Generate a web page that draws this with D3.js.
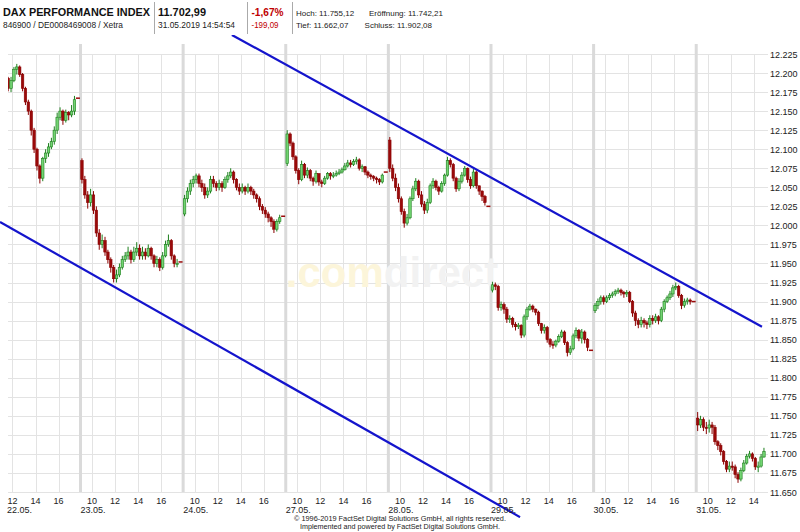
<!DOCTYPE html>
<html><head><meta charset="utf-8">
<script src="https://cdn.jsdelivr.net/npm/d3@7/dist/d3.min.js"></script>
<style>body{margin:0;background:#fff}svg{display:block}text{font-family:Arial,"Liberation Sans",sans-serif}</style>
</head><body><svg id="c" width="800" height="532"></svg>
<script>
// ---------- data ----------
const dayLabels = ["22.05.","23.05.","24.05.","27.05.","28.05.","29.05.","30.05.","31.05."];
const hourTicks = [10,12,14,16];
const yTicks = [11650,11675,11700,11725,11750,11775,11800,11825,11850,11875,11900,11925,11950,11975,12000,12025,12050,12075,12100,12125,12150,12175,12200,12225];
// 15-minute bars, first bar index per day (0 = 09:00-09:15)
const firstBar = [10,0,0,0,0,0,0,0];
const dayOpen = [12193,12085,12015,12081,12112,11915,11888,11747];
const closingAuction = [12167,11952,12012,12070,12025,11836,11900,null];
const c2205 = [12180,12190,12205,12208,12198,12180,12162,12150,12125,12100,12078,12062,12088,12095,12103,12110,12125,12142,12150,12138,12148,12145,12150,12165];
const h2205 = [12195,12195,12208,12212,12210,12200,12182,12165,12152,12128,12102,12080,12090,12100,12108,12115,12130,12148,12155,12152,12152,12150,12158,12170];
const l2205 = [12176,12175,12188,12198,12195,12176,12158,12145,12118,12095,12072,12055,12058,12082,12090,12100,12106,12120,12138,12132,12135,12138,12142,12145];
const c2305 = [12060,12040,12030,12040,12020,11990,11975,11980,11965,11955,11945,11930,11935,11945,11955,11960,11965,11955,11965,11970,11960,11965,11960,11970,11960,11950,11955,11945,11960,11975,11980,11960,11950,11950];
const h2305 = [12088,12065,12045,12048,12045,12025,11995,11988,11985,11968,11958,11948,11942,11950,11960,11965,11972,11968,11972,11978,11975,11972,11970,11975,11972,11962,11960,11958,11965,11980,11988,11982,11962,11956];
const l2305 = [12055,12035,12022,12025,12015,11985,11968,11970,11960,11950,11938,11925,11925,11932,11942,11952,11955,11950,11952,11960,11955,11955,11955,11958,11955,11945,11945,11940,11942,11958,11972,11955,11945,11945];
const c2405 = [12035,12045,12055,12060,12065,12055,12050,12040,12045,12060,12055,12050,12055,12050,12060,12065,12070,12060,12050,12045,12050,12045,12050,12045,12040,12035,12025,12020,12015,12010,12005,11995,12005,12010];
const h2405 = [12040,12050,12060,12065,12068,12068,12060,12055,12050,12065,12065,12058,12060,12058,12064,12070,12075,12072,12062,12055,12055,12052,12055,12052,12048,12042,12038,12028,12024,12018,12012,12008,12008,12014];
const l2405 = [12012,12030,12040,12050,12055,12050,12044,12035,12036,12042,12050,12045,12046,12044,12048,12056,12062,12055,12046,12040,12042,12040,12042,12040,12035,12030,12020,12015,12010,12004,11998,11990,11992,12002];
const c2705 = [12120,12108,12090,12072,12060,12080,12066,12072,12062,12058,12068,12057,12055,12062,12068,12065,12066,12068,12070,12073,12078,12082,12080,12084,12086,12075,12077,12070,12066,12064,12062,12060,12057,12066];
const h2705 = [12125,12122,12110,12092,12075,12085,12082,12076,12074,12064,12072,12068,12060,12065,12070,12070,12070,12072,12074,12076,12082,12086,12086,12087,12090,12088,12080,12078,12072,12068,12066,12064,12062,12068];
const l2705 = [12078,12104,12086,12068,12054,12058,12062,12062,12058,12052,12055,12052,12050,12053,12060,12060,12062,12064,12066,12068,12072,12076,12076,12078,12080,12072,12070,12066,12062,12060,12058,12055,12053,12055];
const c2805 = [12075,12062,12050,12035,12018,12003,12010,12035,12048,12058,12040,12028,12020,12030,12052,12058,12050,12045,12055,12066,12085,12080,12062,12048,12058,12066,12075,12060,12052,12070,12052,12045,12038,12030];
const h2805 = [12116,12080,12068,12055,12038,12022,12015,12038,12052,12062,12060,12045,12032,12035,12055,12062,12060,12052,12058,12068,12090,12088,12082,12064,12062,12070,12078,12076,12064,12074,12072,12052,12046,12040];
const l2805 = [12070,12058,12045,12030,12014,11997,12000,12008,12032,12045,12036,12024,12015,12016,12028,12048,12046,12040,12043,12052,12064,12076,12058,12044,12045,12055,12064,12056,12048,12050,12048,12040,12032,12026];
const c2905 = [11922,11920,11892,11896,11890,11877,11878,11870,11867,11869,11856,11880,11890,11894,11890,11886,11871,11862,11866,11850,11844,11843,11848,11854,11860,11846,11833,11838,11855,11862,11852,11860,11850,11840];
const h2905 = [11926,11925,11922,11900,11899,11893,11882,11880,11873,11872,11870,11883,11893,11897,11896,11891,11888,11872,11870,11868,11852,11848,11850,11857,11863,11862,11848,11842,11858,11866,11864,11864,11862,11852];
const l2905 = [11912,11915,11888,11888,11884,11872,11872,11866,11862,11864,11852,11853,11876,11888,11886,11882,11868,11858,11858,11846,11840,11838,11840,11846,11852,11843,11828,11830,11836,11852,11848,11845,11845,11835];
const c3005 = [11895,11900,11905,11900,11905,11908,11910,11913,11915,11912,11910,11912,11900,11885,11875,11870,11875,11872,11870,11878,11875,11880,11875,11890,11900,11905,11910,11918,11920,11908,11895,11900,11902,11900];
const h3005 = [11898,11904,11908,11908,11908,11911,11913,11916,11918,11917,11914,11915,11914,11902,11888,11878,11880,11878,11875,11882,11882,11884,11882,11893,11903,11908,11914,11922,11925,11922,11910,11904,11905,11904];
const l3005 = [11885,11890,11896,11896,11898,11902,11905,11907,11910,11908,11905,11906,11898,11880,11868,11865,11866,11866,11864,11866,11870,11872,11870,11873,11886,11898,11902,11906,11915,11905,11890,11892,11896,11896];
const c3105 = [11738,11745,11735,11734,11738,11735,11716,11711,11703,11690,11680,11684,11683,11673,11667,11678,11688,11697,11700,11694,11683,11684,11696,11703];
const h3105 = [11755,11750,11748,11742,11745,11742,11738,11718,11714,11705,11692,11690,11690,11686,11676,11682,11692,11700,11704,11702,11696,11690,11700,11708];
const l3105 = [11730,11734,11730,11726,11728,11726,11712,11705,11698,11686,11676,11676,11678,11668,11662,11664,11676,11686,11694,11690,11679,11676,11682,11695];
const dayCloses = [c2205,c2305,c2405,c2705,c2805,c2905,c3005,c3105];
const dayHighs = [h2205,h2305,h2405,h2705,h2805,h2905,h3005,h3105];
const dayLows = [l2205,l2305,l2405,l2705,l2805,l2905,l3005,l3105];
// trend channel: [dayIndex, hour, value]
const upperLine = [[2,13.23,12250],[7,14.70,11867]];
const lowerLine = [[0,10.92,12004.5],[5,11.52,11617]];
// header texts: [text, x, baseline, size, bold, colour, width (null = natural), anchor]
const headerTexts = [
  ["DAX PERFORMANCE INDEX",3,16,11.5,true,"#111",147,"start"],
  ["846900 / DE0008469008 / Xetra",3,28,8.5,false,"#222",120,"start"],
  ["11.702,99",158,16,11.5,true,"#111",48,"start"],
  ["31.05.2019 14:54:54",158,28,8.5,false,"#222",77,"start"],
  ["-1,67%",251.5,16,11.5,true,"#c00000",32,"start"],
  ["-199,09",251.5,28,8.5,false,"#c00000",27,"start"],
  ["Hoch: 11.755,12",296,16,8,false,"#222",null,"start"],
  ["Eröffnung: 11.742,21",443,16,8,false,"#222",null,"end"],
  ["Tief: 11.662,07",296,28,8,false,"#222",null,"start"],
  ["Schluss: 11.902,08",432,28,8,false,"#222",null,"end"]
];
const footer = ["© 1996-2019 FactSet Digital Solutions GmbH, all rights reserved.","Implemented and powered by FactSet Digital Solutions GmbH."];
const footerWidths = [212,200];

// ---------- layout ----------
const DAYLEN = 8.9; // session hours per day slot
const U = (d,h) => d*DAYLEN + (h-9);
const x = d3.scaleLinear().domain([2.611, 68.525]).range([8, 768]);
const y = d3.scaleLinear().domain([11650, 12225]).range([492, 54]);
const de = d3.formatLocale({decimal:",",thousands:".",grouping:[3],currency:["","€"]});
const fmt = de.format(",d");

const svg = d3.select("#c");
const defs = svg.append("defs");
defs.append("clipPath").attr("id","plot").append("rect").attr("x",8).attr("y",44).attr("width",760).attr("height",449);
defs.append("clipPath").attr("id","tl").append("rect").attr("x",0).attr("y",35).attr("width",768).attr("height",483);

// header
const H = svg.append("g");
headerTexts.forEach(t=>{
  const el = H.append("text").attr("x",t[1]).attr("y",t[2]).attr("font-size",t[3]).attr("font-weight",t[4]?"bold":"normal")
    .attr("fill",t[5]).attr("text-anchor",t[7]).text(t[0]);
  if (t[6]) el.attr("textLength",t[6]).attr("lengthAdjust","spacingAndGlyphs");
});
[154,247,292].forEach(v=>H.append("line").attr("x1",v+0.5).attr("x2",v+0.5).attr("y1",2).attr("y2",34).attr("stroke","#aaa"));

// grid
const G = svg.append("g");
yTicks.forEach(v=>G.append("line").attr("x1",8).attr("x2",768).attr("y1",Math.round(y(v))+0.5).attr("y2",Math.round(y(v))+0.5).attr("stroke","#e3e3e3"));
dayLabels.forEach((lab,d)=>{
  hourTicks.forEach(h=>{
    const xv = x(U(d,h));
    if (xv<8||xv>768) return;
    G.append("line").attr("x1",Math.round(xv)+0.5).attr("x2",Math.round(xv)+0.5).attr("y1",54).attr("y2",492).attr("stroke","#e3e3e3");
  });
  if (d>0) {
    const xs = x(U(d,9));
    G.append("rect").attr("x",xs-1.5).attr("y",44).attr("width",3).attr("height",448).attr("fill","#dadada");
  }
});
// watermark
const W = svg.append("text").attr("x",392).attr("y",287).attr("text-anchor","middle").attr("font-size",42).attr("font-weight","bold");
W.append("tspan").attr("fill","#fcf5da").text(".com");
W.append("tspan").attr("fill","#f2f2f2").text("direct");

// candles
const C = svg.append("g").attr("clip-path","url(#plot)");
dayCloses.forEach((arr,d)=>{
  let prev = dayOpen[d];
  arr.forEach((c,i)=>{
    const k = firstBar[d]+i;
    const u0 = U(d,9+k*0.25);
    const x0 = x(u0), x1 = x(u0+0.25), xm = (x0+x1)/2;
    const o = prev;
    const up = c>=o;
    const hi = dayHighs[d][i], lo = dayLows[d][i];
    C.append("line").attr("x1",xm).attr("x2",xm).attr("y1",y(hi)).attr("y2",y(lo))
      .attr("stroke",up?"#1d7f1d":"#8a0000").attr("stroke-width",1);
    const top = y(Math.max(o,c)), bot = y(Math.min(o,c));
    C.append("rect").attr("x",x0+0.2).attr("y",top).attr("width",Math.max(1,x1-x0-0.4)).attr("height",Math.max(1.2,bot-top))
      .attr("fill",up?"#72d472":"#9a0a0a").attr("stroke",up?"#1d7f1d":"#8a0000").attr("stroke-width",0.6);
    prev = c;
  });
  if (closingAuction[d]!=null){
    C.append("line").attr("x1",x(U(d,17.5))).attr("x2",x(U(d,17.85))).attr("y1",y(closingAuction[d])).attr("y2",y(closingAuction[d]))
      .attr("stroke","#9a0a0a").attr("stroke-width",1.5);
  }
});

// trend lines
const T = svg.append("g").attr("clip-path","url(#tl)");
[upperLine,lowerLine].forEach(l=>{
  T.append("line").attr("x1",x(U(l[0][0],l[0][1]))).attr("y1",y(l[0][2])).attr("x2",x(U(l[1][0],l[1][1]))).attr("y2",y(l[1][2]))
    .attr("stroke","#1414cc").attr("stroke-width",2.2);
});

// axes labels
const A = svg.append("g").attr("font-size",9).attr("fill","#222");
yTicks.forEach(v=>A.append("text").attr("x",770).attr("y",y(v)+3.5).text(fmt(v)));
dayLabels.forEach((lab,d)=>{
  hourTicks.forEach(h=>{
    const xv = x(U(d,h));
    if (xv<8||xv>768) return;
    A.append("text").attr("x",xv).attr("y",504).attr("text-anchor","middle").text(h);
  });
  A.append("text").attr("x",d===0?7:x(U(d,9))).attr("y",513).text(lab);
});
footer.forEach((t,i)=>svg.append("text").attr("x",400).attr("y",521+i*7.5).attr("text-anchor","middle").attr("font-size",6.8)
  .attr("textLength",footerWidths[i]).attr("lengthAdjust","spacingAndGlyphs").attr("fill","#222").text(t));
</script></body></html>
